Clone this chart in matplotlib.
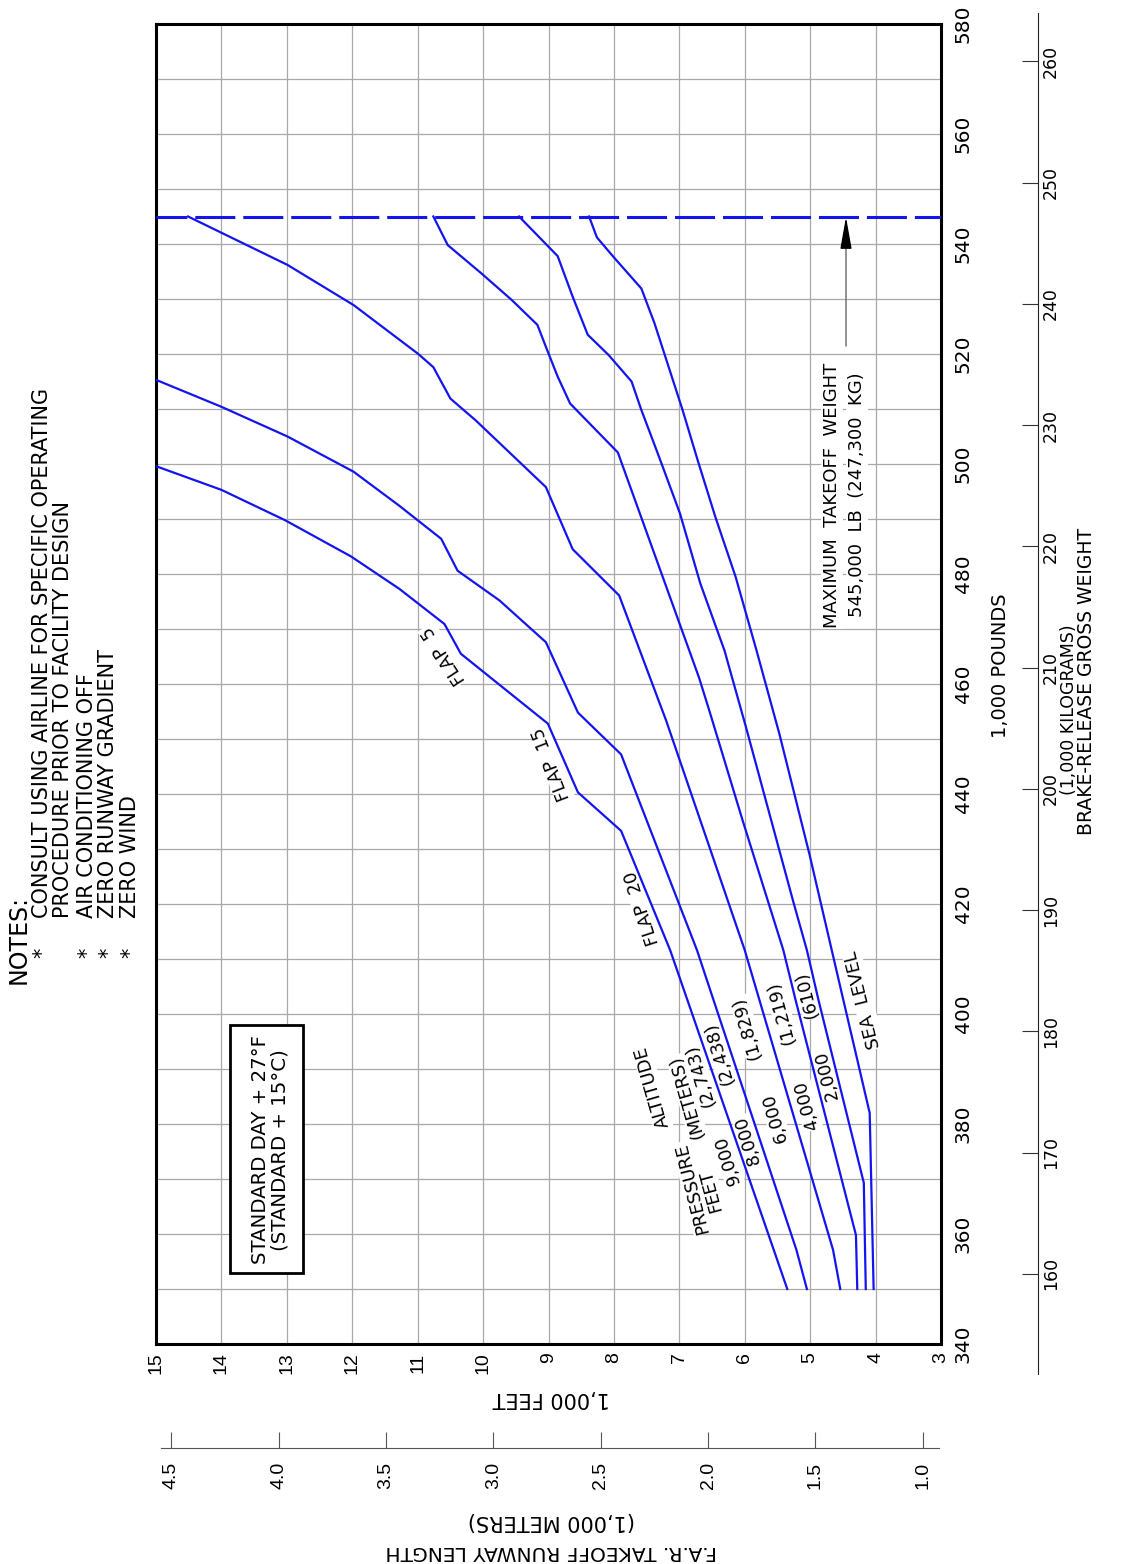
import matplotlib
matplotlib.use('Agg')
import matplotlib.pyplot as plt
from matplotlib.patches import Rectangle

W_PX, H_PX = 1125, 1564

# curves: brake-release gross weight (1,000 lb) vs takeoff runway length (1,000 ft)
w_9000 = [350, 411.6, 433.3, 440.3, 452.8, 465.5, 470.9, 477.3, 483.2, 489.8, 495.3, 499.6]
l_9000 = [5.35, 7.14, 7.89, 8.55, 9.01, 10.34, 10.59, 11.28, 12.02, 13.03, 14.0, 15.0]
w_8000 = [350, 357.1, 411.6, 447.2, 454.8, 467.6, 475.2, 480.6, 486.4, 492.4, 498.6, 505.0, 510.4, 515.3]
l_8000 = [5.05, 5.21, 6.73, 7.89, 8.55, 9.04, 9.75, 10.39, 10.64, 11.28, 11.98, 12.99, 14.0, 15.0]
w_6000 = [350, 357.1, 411.6, 453.3, 476.1, 484.5, 495.8, 507.9, 511.9, 517.6, 520.0, 528.9, 536.2, 545.0]
l_6000 = [4.54, 4.65, 6.00, 7.20, 7.92, 8.63, 9.04, 10.11, 10.50, 10.76, 10.99, 11.98, 12.99, 14.51]
w_4000 = [350, 359.8, 402.4, 411.6, 435.1, 455.1, 461.2, 502.1, 511.0, 515.9, 520.7, 525.3, 529.8,
          534.7, 539.8, 545.0]
l_4000 = [4.28, 4.30, 5.22, 5.41, 6.03, 6.54, 6.70, 7.94, 8.67, 8.86, 9.02, 9.17, 9.56,
          10.03, 10.54, 10.76]
w_2000 = [350, 369.3, 402.4, 411.6, 420.5, 452.1, 466.1, 478.3, 491.0, 501.3, 509.8, 515.0, 519.8,
          523.5, 530.4, 537.8, 545.0]
l_2000 = [4.15, 4.18, 4.87, 5.05, 5.26, 5.98, 6.31, 6.68, 6.99, 7.31, 7.58, 7.73, 8.08,
          8.40, 8.63, 8.86, 9.45]
w_sl = [350, 382.0, 402.4, 411.6, 429.0, 450.9, 466.1, 479.5, 490.4, 500.7, 509.8, 520.1, 525.6,
        531.9, 537.7, 541.2, 545.0]
l_sl = [4.03, 4.09, 4.49, 4.67, 5.01, 5.47, 5.82, 6.14, 6.45, 6.72, 6.95, 7.23, 7.38,
        7.58, 8.01, 8.26, 8.38]

max_takeoff_weight = 545.0

len_ticks = list(range(3, 16))
wt_ticks = list(range(340, 581, 20))
wt_grid = list(range(340, 581, 10))
kg_ticks = list(range(160, 261, 10))
m_ticks = [1.0, 1.5, 2.0, 2.5, 3.0, 3.5, 4.0, 4.5]

LB_PER_KG = 2.20462
M_PER_FT = 0.3048

SANS = 'DejaVu Sans'
ARIAL = 'Liberation Sans'
BLUE = '#1414f0'


def fpos(x, y):
    """ pixel position in the picture -> figure fraction """
    return x / W_PX, 1 - y / H_PX


fig = plt.figure(figsize=(W_PX / 100, H_PX / 100), dpi=100)
fig.patch.set_facecolor('white')

# main chart, drawn already turned on its side
ax = fig.add_axes([156 / W_PX, 1 - 1344 / H_PX, 785 / W_PX, 1320 / H_PX])
ax.set_xlim(15, 3)
ax.set_ylim(340, 580)
ax.set_xticks(len_ticks)
ax.set_xticklabels([str(t) for t in len_ticks], rotation=90, family=ARIAL, fontsize=14)
ax.set_yticks(wt_ticks)
ax.set_yticklabels([str(t) for t in wt_ticks], rotation=90, va='center', family=SANS, fontsize=14.5)
ax.set_yticks(wt_grid, minor=True)
ax.yaxis.tick_right()
ax.tick_params(axis='both', which='both', length=0)
ax.tick_params(axis='x', pad=6)
ax.tick_params(axis='y', pad=9)
ax.grid(True, which='both', color='#a8a8a8', lw=0.9)
ax.set_axisbelow(True)
for sp in ax.spines.values():
    sp.set_linewidth(2.2)

for w, l in [(w_9000, l_9000), (w_8000, l_8000), (w_6000, l_6000),
             (w_4000, l_4000), (w_2000, l_2000), (w_sl, l_sl)]:
    ax.plot(l, w, color=BLUE, lw=1.6, zorder=3, solid_joinstyle='miter')

ax.axhline(max_takeoff_weight, color=BLUE, lw=2.2, ls=(3.0, (13.1, 2.6)), zorder=3)

# meters scale under the chart
axm = fig.add_axes([161 / W_PX, 1 - 1448 / H_PX, 778 / W_PX, 20 / H_PX])
axm.set_xlim((15 - 5 * 12 / 785) * M_PER_FT, (15 - 783 * 12 / 785) * M_PER_FT)
axm.set_xticks(m_ticks)
axm.set_xticklabels(['%.1f' % t for t in m_ticks], rotation=90, family=ARIAL, fontsize=14)
axm.tick_params(axis='x', direction='in', length=11.5, width=0.8, color='#555555', pad=10)
axm.set_yticks([])
axm.patch.set_visible(False)
for k in ['top', 'left', 'right']:
    axm.spines[k].set_visible(False)
axm.spines['bottom'].set_color('#555555')

# kilograms scale right of the chart
axk = fig.add_axes([(1038 - 20) / W_PX, 1 - 1374 / H_PX, 20 / W_PX, 1361 / H_PX])
axk.set_ylim((340 - 30 / 5.5) / LB_PER_KG, (580 + 11 / 5.5) / LB_PER_KG)
axk.yaxis.tick_right()
axk.set_yticks(kg_ticks)
axk.set_yticklabels([str(t) for t in kg_ticks], rotation=90, va='center', family=SANS, fontsize=12.5)
axk.tick_params(axis='y', direction='in', length=11.5, width=0.8, color='#333333', pad=3)
axk.set_xticks([])
axk.patch.set_visible(False)
for k in ['top', 'left', 'bottom']:
    axk.spines[k].set_visible(False)
axk.spines['right'].set_color('#222222')

# axis titles
fig.text(*fpos(1001, 666), '1,000 POUNDS', rotation=90, ha='center', va='center', family=SANS, fontsize=14)
fig.text(*fpos(1069, 710), '(1,000 KILOGRAMS)', rotation=90, ha='center', va='center', family=SANS,
         fontsize=12.5)
fig.text(*fpos(1087, 681), 'BRAKE-RELEASE GROSS WEIGHT', rotation=90, ha='center', va='center',
         family=SANS, fontsize=13.5)
fig.text(*fpos(551, 1398), '1,000 FEET', rotation=180, ha='center', va='center', family=SANS, fontsize=15)
fig.text(*fpos(551, 1521), '(1,000 METERS)', rotation=180, ha='center', va='center', family=SANS, fontsize=15)
fig.text(*fpos(551, 1551), 'F.A.R. TAKEOFF RUNWAY LENGTH', rotation=180, ha='center', va='center',
         family=SANS, fontsize=14.5)

# notes
fig.text(*fpos(19, 984), 'NOTES:', rotation=90, ha='center', va='bottom', family=SANS, fontsize=17)
note_lines = [(42, True, 'CONSULT USING AIRLINE FOR SPECIFIC OPERATING'),
              (63, False, 'PROCEDURE PRIOR TO FACILITY DESIGN'),
              (87, True, 'AIR CONDITIONING OFF'),
              (108, True, 'ZERO RUNWAY GRADIENT'),
              (130, True, 'ZERO WIND')]
for x, star, txt in note_lines:
    if star:
        fig.text(*fpos(x, 953), '*', rotation=90, ha='center', va='center', family=SANS, fontsize=15)
    fig.text(*fpos(x, 918), txt, rotation=90, ha='center', va='bottom', family=SANS, fontsize=15)

# conditions box
fig.add_artist(Rectangle(fpos(230, 1273), 73 / W_PX, 248 / H_PX, transform=fig.transFigure,
                         fc='white', ec='black', lw=2.0, zorder=2))
fig.text(*fpos(270, 1150), 'STANDARD DAY + 27°F\n(STANDARD + 15°C)', rotation=90, ha='center',
         va='center', multialignment='center', family=SANS, fontsize=14.2, linespacing=1.05, zorder=3)

# labels inside the chart
lab = dict(transform=fig.transFigure, ha='center', va='center', family=SANS, fontsize=12.8, zorder=2,
           bbox=dict(boxstyle='square,pad=0.05', fc='white', ec='none'))
in_labels = [(692, 1188, 'PRESSURE', 104), (652, 1087, 'ALTITUDE', 106),
             (711, 1190, 'FEET', 105), (687, 1097, '(METERS)', 106),
             (728, 1160, '9,000', 107), (700, 1075, '(2,743)', 107),
             (748, 1140, '8,000', 107), (719, 1053, '(2,438)', 107),
             (775, 1118, '6,000', 106), (747, 1028, '(1,829)', 106),
             (807, 1105, '4,000', 105), (781, 1012, '(1,219)', 105),
             (827, 1075, '2,000', 104), (807, 995, '(610)', 104),
             (863, 1000, 'SEA  LEVEL', 104),
             (642, 908, 'FLAP  20', 108), (552, 764, 'FLAP  15', 111), (444, 655, 'FLAP  5', 123)]
for x, y, txt, rot in in_labels:
    ax.text(*fpos(x, y), txt, rotation=rot, **lab)

mtow = dict(transform=fig.transFigure, ha='center', va='center', family=SANS, fontsize=13, zorder=2,
            rotation=90, bbox=dict(boxstyle='square,pad=0.1', fc='white', ec='none'))
ax.text(*fpos(832, 495), 'MAXIMUM  TAKEOFF  WEIGHT', **mtow)
ax.text(*fpos(857, 495), '545,000  LB  (247,300  KG)', **mtow)
ax.annotate('', xy=fpos(846, 240), xytext=fpos(846, 346), xycoords='figure fraction',
            textcoords='figure fraction',
            arrowprops=dict(arrowstyle='-', color='#666666', lw=1.0, shrinkA=0, shrinkB=0))
ax.annotate('', xy=fpos(846, 217), xytext=fpos(846, 246), xycoords='figure fraction',
            textcoords='figure fraction',
            arrowprops=dict(arrowstyle='-|>,head_length=1.4,head_width=0.25', color='black', lw=1.0,
                            mutation_scale=14, shrinkA=0, shrinkB=0))

fig.savefig('out.png', dpi=100)
